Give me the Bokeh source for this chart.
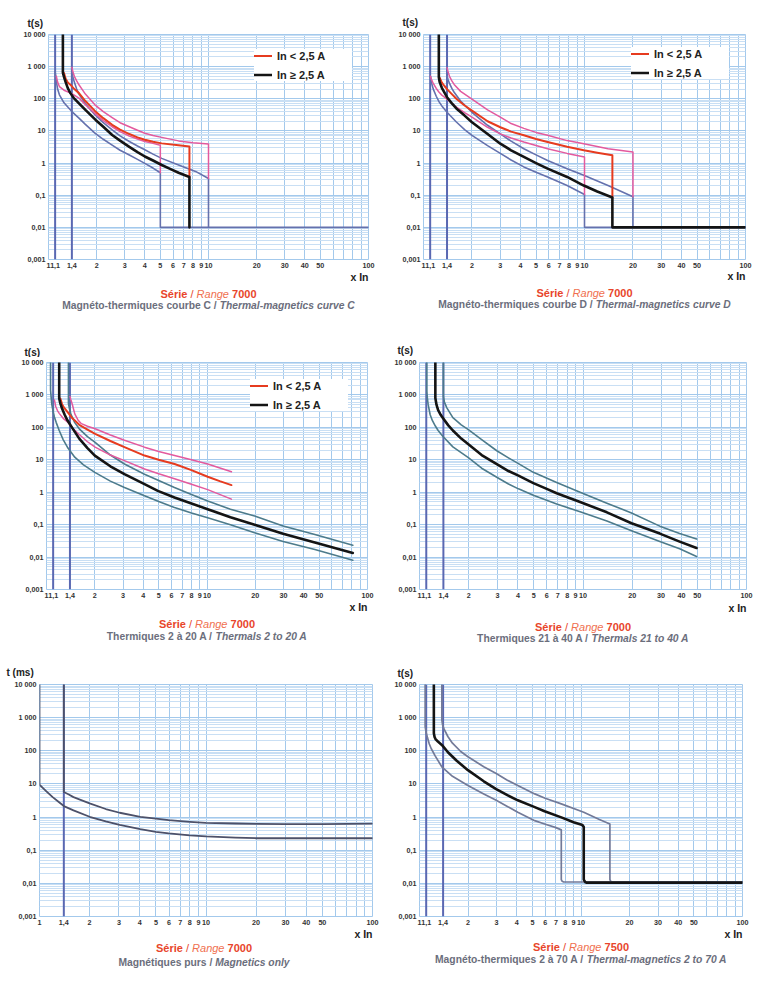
from bokeh.plotting import figure
from bokeh.models import Range1d, FixedTicker, Legend, LegendItem
from bokeh.core.properties import value
from bokeh.layouts import column, row
from bokeh.embed import file_html
from bokeh.resources import INLINE

# ---------------- DATA ----------------
REF_X = [1.1, 1.4]
REF_X_M = [1.4]

# Curve C (Range 7000)
C_BLUE_LO_X = [1.1, 1.12, 1.14, 1.17, 1.25, 1.4, 1.55, 1.7, 1.95, 2.2, 2.5, 2.8, 3.2, 3.6, 4.0, 4.5, 5.0, 5.0, 100]
C_BLUE_LO_T = [700, 350, 200, 133, 75, 40, 25, 16, 8.5, 5.5, 3.6, 2.5, 1.78, 1.3, 0.98, 0.7, 0.5, 0.01, 0.01]
C_PINK_LO_X = [1.12, 1.14, 1.17, 1.25, 1.4, 1.55, 1.7, 1.95, 2.2, 2.5, 2.8, 3.2, 3.6, 4.0, 4.5, 5.0, 5.0]
C_PINK_LO_T = [500, 330, 240, 185, 145, 105, 65, 35, 21, 13.5, 9.5, 6.9, 5.6, 4.7, 4.1, 3.6, 0.5]
C_BLUE_UP_X = [1.4, 1.42, 1.45, 1.5, 1.55, 1.7, 1.95, 2.2, 2.5, 2.8, 3.2, 3.6, 4.0, 4.5, 5.1, 6.5, 8.3, 10, 10]
C_BLUE_UP_T = [700, 480, 330, 200, 140, 70, 32, 18, 10.8, 7, 4.7, 3.4, 2.6, 1.9, 1.4, 0.87, 0.55, 0.33, 0.01]
C_PINK_UP_X = [1.4, 1.42, 1.45, 1.5, 1.55, 1.7, 1.95, 2.2, 2.5, 2.8, 3.2, 3.6, 4.0, 4.5, 5.1, 6.5, 8.0, 10, 10]
C_PINK_UP_T = [950, 700, 500, 360, 273, 140, 65, 40, 26, 18, 13.5, 10.5, 8.5, 7.2, 6.3, 4.9, 4.3, 3.9, 0.33]
C_RED_X = [1.25, 1.28, 1.32, 1.37, 1.45, 1.55, 1.7, 1.95, 2.2, 2.5, 2.8, 3.2, 3.6, 4.0, 4.5, 5.1, 6.5, 7.6, 7.6]
C_RED_T = [630, 420, 320, 275, 200, 150, 85, 42, 25, 15.5, 11, 8, 6.3, 5.3, 4.6, 4.1, 3.6, 3.3, 0.37]
C_BLACK_X = [1.23, 1.23, 1.25, 1.28, 1.32, 1.37, 1.44, 1.55, 1.7, 1.97, 2.2, 2.5, 2.8, 3.2, 3.6, 4.0, 4.5, 5.1, 5.8, 6.5, 7.6, 7.6]
C_BLACK_T = [10000, 650, 480, 330, 215, 150, 105, 72, 45, 22, 13.5, 7.5, 5, 3.2, 2.2, 1.6, 1.2, 0.87, 0.65, 0.5, 0.37, 0.01]

# Curve D (Range 7000)
D_BLUE_LO_X = [1.105, 1.12, 1.15, 1.2, 1.25, 1.3, 1.4, 1.6, 1.8, 2.0, 2.5, 3.0, 3.5, 4.2, 5.0, 5.9, 7.8, 10, 10, 100]
D_BLUE_LO_T = [500, 320, 200, 120, 80, 60, 38, 19, 11, 7.3, 3.5, 2, 1.25, 0.76, 0.52, 0.37, 0.2, 0.105, 0.01, 0.01]
D_PINK_LO_X = [1.105, 1.12, 1.15, 1.2, 1.25, 1.3, 1.4, 1.6, 1.8, 2.0, 2.5, 3.0, 3.5, 4.2, 5.0, 5.9, 7.8, 10, 10]
D_PINK_LO_T = [500, 400, 300, 210, 160, 130, 98, 55, 37, 27, 13, 8.1, 6, 4.5, 3.5, 2.8, 2, 1.55, 0.105]
D_BLUE_UP_X = [1.4, 1.42, 1.45, 1.5, 1.55, 1.7, 2.0, 2.5, 3.0, 3.5, 4.2, 5.0, 5.9, 7.8, 9.9, 14, 20, 20]
D_BLUE_UP_T = [520, 400, 300, 210, 160, 85, 38, 15, 8.1, 4.8, 2.8, 1.8, 1.2, 0.67, 0.42, 0.2, 0.09, 0.01]
D_PINK_UP_X = [1.4, 1.42, 1.45, 1.5, 1.55, 1.7, 2.0, 2.5, 3.0, 3.5, 4.2, 5.0, 5.9, 7.8, 9.9, 14, 20, 20]
D_PINK_UP_T = [930, 700, 500, 360, 280, 170, 98, 45, 27, 17, 12, 9, 7.3, 5, 4, 2.8, 2.2, 0.09]
D_RED_X = [1.26, 1.3, 1.35, 1.4, 1.5, 1.6, 1.8, 2.0, 2.5, 3.0, 3.5, 4.2, 5.0, 5.9, 7.8, 9.9, 12, 14.9, 14.9]
D_RED_T = [450, 320, 250, 200, 140, 100, 62, 43, 20, 13, 9.5, 7.3, 5.6, 4.5, 3.2, 2.5, 2.1, 1.74, 0.085]
D_BLACK_X = [1.245, 1.245, 1.26, 1.3, 1.35, 1.4, 1.5, 1.6, 1.8, 2.0, 2.5, 3.0, 3.5, 4.2, 5.0, 5.9, 7.8, 9.9, 12, 14.9, 14.9, 100]
D_BLACK_T = [10000, 470, 330, 220, 155, 112, 72, 50, 30, 18.6, 8, 4, 2.5, 1.55, 1.0, 0.67, 0.37, 0.2, 0.13, 0.085, 0.01, 0.01]

# Thermal 2 to 20 A
T1_LO_X = [1.06, 1.06, 1.07, 1.08, 1.1, 1.12, 1.15, 1.2, 1.27, 1.35, 1.5, 1.7, 2.0, 2.5, 3.06, 4.08, 5, 6.27, 8, 10.1, 14, 19.8, 29.8, 47, 81]
T1_LO_T = [10000, 1400, 800, 500, 300, 210, 140, 80, 42, 24.5, 12, 7, 4.1, 2.2, 1.4, 0.78, 0.52, 0.34, 0.23, 0.164, 0.1, 0.056, 0.03, 0.017, 0.008]
T1_UP_X = [1.37, 1.37, 1.39, 1.42, 1.5, 1.6, 1.8, 2.0, 2.5, 3.06, 4.08, 5, 6.27, 8, 10.1, 14, 19.8, 29.8, 47, 81]
T1_UP_T = [10000, 540, 380, 250, 140, 90, 52, 35, 14, 7.4, 3.6, 2.3, 1.4, 0.85, 0.54, 0.3, 0.185, 0.091, 0.05, 0.023]
T1_PINK_LO_X = [1.12, 1.14, 1.17, 1.2, 1.27, 1.35, 1.45, 1.6, 1.8, 2.01, 2.5, 3.06, 4.08, 5, 6.28, 8, 10.1, 14.2]
T1_PINK_LO_T = [700, 450, 330, 270, 190, 148, 95, 60, 36, 24.5, 14, 9.4, 5.2, 3.7, 2.6, 1.75, 1.2, 0.61]
T1_PINK_UP_X = [1.4, 1.42, 1.45, 1.5, 1.57, 1.65, 1.8, 2.01, 2.5, 3.06, 4.08, 5, 6.28, 8, 10.1, 14.2]
T1_PINK_UP_T = [900, 700, 500, 260, 170, 130, 108, 91, 58, 40, 24.5, 18, 13.5, 10, 7.4, 4.3]
T1_RED_X = [1.22, 1.25, 1.28, 1.35, 1.45, 1.6, 1.8, 2.01, 2.5, 3.06, 4.08, 5, 6.28, 8, 10.1, 12, 14.2]
T1_RED_T = [780, 520, 420, 300, 190, 120, 85, 63, 38, 24.5, 13.5, 10, 7.4, 4.8, 3.0, 2.2, 1.66]
T1_BLACK_X = [1.2, 1.2, 1.22, 1.25, 1.3, 1.35, 1.45, 1.6, 1.8, 2.0, 2.5, 3.06, 4.08, 4.94, 6.27, 8, 10.1, 14, 19.8, 29.8, 47, 81]
T1_BLACK_T = [10000, 780, 550, 380, 240, 165, 95, 45, 23, 13.5, 6.3, 3.6, 1.78, 1.1, 0.69, 0.45, 0.30, 0.17, 0.10, 0.052, 0.028, 0.0134]

# Thermal 21 to 40 A
T2_LO_X = [1.108, 1.108, 1.12, 1.13, 1.162, 1.2, 1.25, 1.3, 1.388, 1.6, 1.99, 2.4, 2.97, 3.5, 4.03, 4.97, 6.9, 9.6, 14, 19.8, 29.5, 39, 49.5]
T2_LO_T = [10000, 1300, 700, 500, 245, 160, 110, 80, 53, 25, 11.7, 5.5, 2.9, 1.8, 1.27, 0.8, 0.43, 0.25, 0.13, 0.065, 0.03, 0.018, 0.0104]
T2_UP_X = [1.4, 1.4, 1.42, 1.47, 1.6, 1.8, 1.99, 2.4, 2.97, 3.5, 4.03, 4.97, 6.9, 9.6, 14, 19.8, 29.5, 39, 49.5]
T2_UP_T = [10000, 900, 600, 400, 200, 120, 85, 42, 19, 11.5, 7.6, 4.1, 2.0, 1.0, 0.46, 0.23, 0.09, 0.053, 0.036]
T2_BLACK_X = [1.25, 1.25, 1.27, 1.3, 1.35, 1.39, 1.5, 1.6, 1.8, 1.99, 2.4, 2.97, 3.5, 4.03, 4.97, 6.0, 6.9, 9.6, 14, 19.8, 29.5, 39, 49.5]
T2_BLACK_T = [10000, 800, 500, 340, 240, 195, 115, 80, 45, 30, 14, 7.3, 4.5, 3.24, 1.9, 1.27, 0.93, 0.5, 0.24, 0.11, 0.053, 0.03, 0.019]

# Magnetics only (ms)
M_LO_X = [1, 1, 1.05, 1.1, 1.2, 1.3, 1.4, 1.6, 2, 2.5, 3.03, 4.03, 5, 5.97, 8, 10, 15, 20, 30, 50, 100]
M_LO_T = [10000, 9.5, 7.5, 6, 4, 2.9, 2.15, 1.6, 1.02, 0.74, 0.58, 0.43, 0.36, 0.32, 0.28, 0.26, 0.24, 0.23, 0.23, 0.23, 0.23]
M_UP_X = [1.4, 1.4, 1.5, 1.6, 2, 2.5, 3.03, 4.03, 5, 5.97, 8, 10, 15, 20, 30, 50, 100]
M_UP_T = [10000, 5.7, 4.8, 4, 2.6, 1.75, 1.35, 1.02, 0.9, 0.81, 0.72, 0.67, 0.64, 0.62, 0.61, 0.61, 0.63]

# Range 7500, 2 to 70 A
G_LO_X = [1.084, 1.084, 1.1, 1.12, 1.15, 1.181, 1.25, 1.38, 1.6, 1.995, 2.5, 2.985, 3.5, 4.06, 5.17, 5.95, 7.0, 7.55, 7.55, 7.65, 7.8, 100]
G_LO_T = [10000, 540, 350, 250, 160, 117, 70, 32, 17, 9, 5, 3.2, 2.1, 1.4, 0.78, 0.62, 0.48, 0.41, 0.013, 0.0115, 0.011, 0.011]
G_UP_X = [1.375, 1.375, 1.39, 1.42, 1.498, 1.6, 1.8, 1.995, 2.5, 2.985, 3.5, 4.06, 5.17, 6, 7.55, 10.4, 13, 15.1, 15.1, 15.3, 15.5, 100]
G_UP_T = [10000, 850, 600, 450, 270, 170, 95, 66, 33, 20.5, 13, 9, 5, 3.7, 2.5, 1.4, 0.85, 0.62, 0.013, 0.0115, 0.011, 0.011]
G_BLACK_X = [1.227, 1.227, 1.24, 1.26, 1.3, 1.38, 1.5, 1.7, 1.995, 2.5, 2.985, 3.5, 4.06, 5.17, 5.95, 7.55, 9, 10.2, 10.4, 10.4, 10.6, 10.8, 100]
G_BLACK_T = [10000, 340, 260, 220, 190, 148, 90, 50, 26, 12, 7, 4.6, 3.2, 2.0, 1.5, 0.98, 0.7, 0.58, 0.5, 0.013, 0.011, 0.0105, 0.0105]

# Ticks
X_TICKS = [1, 1.1, 1.4, 2, 3, 4, 5, 6, 7, 8, 9, 10, 20, 30, 40, 50, 100]
X_LABELS = ["1", "1,1", "1,4", "2", "3", "4", "5", "6", "7", "8", "9", "10", "20", "30", "40", "50", "100"]
X_TICKS_M = [1, 1.4, 2, 3, 4, 5, 6, 7, 8, 9, 10, 20, 30, 40, 50, 100]
X_LABELS_M = ["1", "1,4", "2", "3", "4", "5", "6", "7", "8", "9", "10", "20", "30", "40", "50", "100"]
Y_TICKS = [0.001, 0.01, 0.1, 1, 10, 100, 1000, 10000]
Y_LABELS = ["0,001", "0,01", "0,1", "1", "10", "100", "1 000", "10 000"]

LEGEND_LABELS = ["In < 2,5 A", "In \u2265 2,5 A"]

# ---------------- STYLE ----------------
FONT = "Liberation Sans"
GRID_MAJ = "#a3c9ec"
GRID_MIN = "#c9dff4"
REF_COL = "#5a68b2"
BLUE = "#6571ad"
PINK = "#e35a9e"
RED = "#e63b1f"
BLACK = "#141414"
TEAL = "#4d7b8b"
GREYB = "#737a98"
SLATE = "#4d5169"
CAP_RED = "#e8452b"
CAP_ORANGE = "#f0704f"
CAP_GREY = "#6b6e7c"

X_GRID = [m * d for d in (1, 10) for m in range(1, 10)] + [100]
Y_MINOR = [m * 10.0 ** e for e in range(-3, 4) for m in range(2, 10)]

BOLD_W = {' ': 278, '/': 278, '-': 333, ',': 278, 'S': 667, 'R': 722, 'M': 833, 'C': 722, 'D': 722,
          'T': 611, 'A': 722, 'P': 667, 'I': 278, 'a': 556, 'b': 611, 'c': 556, 'd': 611, 'e': 556, 'é': 556,
          'à': 556, 'f': 333, 'g': 611, 'h': 611, 'i': 278, 'l': 278, 'm': 889, 'n': 611, 'o': 611,
          'p': 611, 'q': 611, 'r': 389, 's': 556, 't': 333, 'u': 611, 'v': 556, 'y': 556, 'x': 556}
REG_W = {' ': 278, '/': 278, '-': 333, ',': 278, 'S': 667, 'R': 722, 'M': 833, 'C': 722, 'D': 722,
         'T': 611, 'A': 667, 'P': 667, 'I': 278, 'a': 556, 'b': 556, 'c': 500, 'd': 556, 'e': 556, 'é': 556,
         'à': 556, 'f': 278, 'g': 556, 'h': 556, 'i': 222, 'l': 222, 'm': 833, 'n': 556, 'o': 556,
         'p': 556, 'q': 556, 'r': 333, 's': 500, 't': 278, 'u': 556, 'v': 500, 'y': 500, 'x': 500}

PAGE_W = 780
COL_W = 390
TOP_B = 5
BOTTOM_B = 12
# frame top / height of each row of panels (page pixels)
ROWS = [(34, 225), (362, 227), (684, 232)]
PAGE_H = 1000


def text_w(s, bold, size):
    tbl = BOLD_W if bold else REG_W
    return sum(tbl.get(ch, 556) for ch in s) * size / 1000.0


def text_fig(w, h):
    f = figure(width=w, height=h, x_range=Range1d(0, w), y_range=Range1d(h, 0),
               output_backend="svg", toolbar_location=None, title=None,
               x_axis_location=None, y_axis_location=None, min_border=0)
    f.min_border_left = 0
    f.min_border_right = 0
    f.min_border_top = 0
    f.min_border_bottom = 0
    f.outline_line_color = None
    f.grid.visible = False
    f.background_fill_color = "white"
    f.border_fill_color = "white"
    return f


# bands of free space between the rows of panels, holding the texts
BANDS = []
prev = 0
for top, fh in ROWS:
    BANDS.append((prev, top - TOP_B))
    prev = top + fh + BOTTOM_B
BANDS.append((prev, PAGE_H))
BAND_FIGS = [text_fig(PAGE_W, b1 - b0) for b0, b1 in BANDS]


def put_text(x, y, s, size, style, color, align="left"):
    for (b0, b1), f in zip(BANDS, BAND_FIGS):
        if b0 <= y < b1:
            f.text(x=[x], y=[y - b0], text=[s], text_font=value(FONT), text_font_size=value(f"{size}px"),
                   text_font_style=value(style), text_color=color, text_align=value(align),
                   text_baseline=value("middle"))
            return


def put_segments(cx, y, segs, size):
    total = sum(text_w(t, b, size) for t, b, i, c in segs)
    x = cx - total / 2.0
    for t, b, i, c in segs:
        lead = len(t) - len(t.lstrip(' '))
        core = t.strip(' ')
        style = (("bold " if b else "") + ("italic" if i else "")).strip() or "normal"
        put_text(x + text_w(t[:lead], b, size), y, core, size, style, c)
        x += text_w(t, b, size)


def make_main(cfg, fh):
    L, FW = cfg["frame"]
    H = TOP_B + fh + BOTTOM_B
    p = figure(width=COL_W, height=H, x_axis_type="log", y_axis_type="log",
               x_range=Range1d(1, 100), y_range=Range1d(1e-3, 1e4),
               output_backend="svg", toolbar_location=None, title=None,
               min_border_left=L, min_border_top=TOP_B,
               min_border_right=COL_W - L - FW, min_border_bottom=BOTTOM_B)
    p.background_fill_color = "white"
    p.border_fill_color = "white"
    p.outline_line_color = GRID_MAJ

    xt, xl = cfg["xticks"]
    p.xaxis.ticker = FixedTicker(ticks=xt)
    p.xaxis.major_label_overrides = {v: s for v, s in zip(xt, xl)}
    p.yaxis.ticker = FixedTicker(ticks=Y_TICKS)
    p.yaxis.major_label_overrides = {v: s for v, s in zip(Y_TICKS, Y_LABELS)}
    for ax in (p.xaxis[0], p.yaxis[0]):
        ax.axis_line_color = None
        ax.major_tick_line_color = None
        ax.minor_tick_line_color = None
        ax.major_tick_in = 0
        ax.major_tick_out = 0
        ax.minor_tick_in = 0
        ax.minor_tick_out = 0
        ax.major_label_text_font = FONT
        ax.major_label_text_font_style = "bold"
        ax.major_label_text_font_size = "7.2px"
        ax.major_label_text_color = "#333333"
        ax.major_label_standoff = 3

    p.xgrid.ticker = FixedTicker(ticks=X_GRID)
    p.xgrid.grid_line_color = GRID_MAJ
    p.xgrid.grid_line_width = 1
    p.ygrid.ticker = FixedTicker(ticks=Y_TICKS, minor_ticks=Y_MINOR)
    p.ygrid.grid_line_color = GRID_MAJ
    p.ygrid.grid_line_width = 1.2
    p.ygrid.minor_grid_line_color = GRID_MIN
    p.ygrid.minor_grid_line_width = 1

    refx = cfg["ref"]
    p.segment(x0=refx, y0=[Y_TICKS[0]] * len(refx), x1=refx, y1=[Y_TICKS[-1]] * len(refx),
              line_color=REF_COL, line_width=2)

    rends = {}
    for key, xs, ts, col, lw in cfg["series"]:
        rends[key] = p.line(xs, ts, line_color=col, line_width=lw, line_join="round", line_cap="round")

    if cfg.get("legend"):
        lx, ly = cfg["legend"]
        leg = Legend(items=[LegendItem(label=LEGEND_LABELS[0], renderers=[rends["red"]]),
                            LegendItem(label=LEGEND_LABELS[1], renderers=[rends["black"]])],
                     location=(lx, ly), padding=3, spacing=6, margin=0,
                     glyph_width=18, glyph_height=13, label_height=13, label_width=75,
                     label_standoff=5, border_line_color=None,
                     background_fill_color="white", background_fill_alpha=1.0,
                     label_text_font=FONT, label_text_font_style="bold",
                     label_text_font_size="11px", label_text_color="#222222")
        p.add_layout(leg)
    return p


def add_texts(cfg, col_x, top, fh):
    L, FW = cfg["frame"]
    left = col_x + L
    right = left + FW
    bottom = top + fh
    hx, hy, htxt = cfg["thead"]
    put_text(left + hx, top - hy, htxt, 10, "bold", "#222222")
    put_text(right, bottom + cfg["xin"], "x In", 10.5, "bold", "#222222", align="right")
    c1, c2 = cfg["capoff"]
    cx = left + FW / 2.0 + cfg.get("capdx", 0)
    put_segments(cx, bottom + c1,
                 [("Série", True, False, CAP_RED), (" / ", False, False, CAP_RED),
                  ("Range", False, True, CAP_ORANGE), (" " + cfg["range"], True, False, CAP_RED)], 11)
    fr, en = cfg["cap2"]
    put_segments(cx, bottom + c2,
                 [(fr + " / ", True, False, CAP_GREY), (en, True, True, CAP_GREY)], 10.3)


panels = [
    dict(frame=(48, 320), xticks=(X_TICKS, X_LABELS), ref=REF_X,
         series=[("blo", C_BLUE_LO_X, C_BLUE_LO_T, BLUE, 1.6), ("bup", C_BLUE_UP_X, C_BLUE_UP_T, BLUE, 1.6),
                 ("plo", C_PINK_LO_X, C_PINK_LO_T, PINK, 1.5), ("pup", C_PINK_UP_X, C_PINK_UP_T, PINK, 1.5),
                 ("red", C_RED_X, C_RED_T, RED, 2.0), ("black", C_BLACK_X, C_BLACK_T, BLACK, 2.6)],
         legend=(206, 178), thead=(-21, 11, "t(s)"), xin=17, capoff=(34, 46), range="7000",
         cap2=("Magnéto-thermiques courbe C", "Thermal-magnetics curve C")),
    dict(frame=(33, 322), xticks=(X_TICKS, X_LABELS), ref=REF_X,
         series=[("blo", D_BLUE_LO_X, D_BLUE_LO_T, BLUE, 1.6), ("bup", D_BLUE_UP_X, D_BLUE_UP_T, BLUE, 1.6),
                 ("plo", D_PINK_LO_X, D_PINK_LO_T, PINK, 1.5), ("pup", D_PINK_UP_X, D_PINK_UP_T, PINK, 1.5),
                 ("red", D_RED_X, D_RED_T, RED, 2.0), ("black", D_BLACK_X, D_BLACK_T, BLACK, 2.6)],
         legend=(208, 180), thead=(-21, 12, "t(s)"), xin=16, capoff=(33, 45), range="7000",
         cap2=("Magnéto-thermiques courbe D", "Thermal-magnetics curve D")),
    dict(frame=(46, 321), xticks=(X_TICKS, X_LABELS), ref=REF_X,
         series=[("lo", T1_LO_X, T1_LO_T, TEAL, 1.6), ("up", T1_UP_X, T1_UP_T, TEAL, 1.6),
                 ("plo", T1_PINK_LO_X, T1_PINK_LO_T, PINK, 1.5), ("pup", T1_PINK_UP_X, T1_PINK_UP_T, PINK, 1.5),
                 ("red", T1_RED_X, T1_RED_T, RED, 2.0), ("black", T1_BLACK_X, T1_BLACK_T, BLACK, 2.6)],
         legend=(204, 178), thead=(-22, 10, "t(s)"), xin=17, capoff=(34, 47), range="7000",
         cap2=("Thermiques 2 à 20 A", "Thermals 2 to 20 A")),
    dict(frame=(29, 327), xticks=(X_TICKS, X_LABELS), ref=REF_X,
         series=[("lo", T2_LO_X, T2_LO_T, TEAL, 1.6), ("up", T2_UP_X, T2_UP_T, TEAL, 1.6),
                 ("black", T2_BLACK_X, T2_BLACK_T, BLACK, 2.6)],
         thead=(-22, 12, "t(s)"), xin=18, capoff=(37, 49), range="7000",
         cap2=("Thermiques 21 à 40 A", "Thermals 21 to 40 A")),
    dict(frame=(39, 333), xticks=(X_TICKS_M, X_LABELS_M), ref=REF_X_M,
         series=[("lo", M_LO_X, M_LO_T, SLATE, 1.8), ("up", M_UP_X, M_UP_T, SLATE, 1.8)],
         thead=(-33, 12, "t (ms)"), xin=17, capoff=(31, 46), range="7000", capdx=-2,
         cap2=("Magnétiques purs", "Magnetics only")),
    dict(frame=(29, 323), xticks=(X_TICKS, X_LABELS), ref=REF_X,
         series=[("lo", G_LO_X, G_LO_T, GREYB, 1.7), ("up", G_UP_X, G_UP_T, GREYB, 1.7),
                 ("black", G_BLACK_X, G_BLACK_T, BLACK, 2.6)],
         thead=(-22, 11, "t(s)"), xin=17, capoff=(30, 43), range="7500",
         cap2=("Magnéto-thermiques 2 à 70 A", "Thermal-magnetics 2 to 70 A")),
]

mains = []
for i, cfg in enumerate(panels):
    top, fh = ROWS[i // 2]
    col_x = (i % 2) * COL_W
    mains.append(make_main(cfg, fh))
    add_texts(cfg, col_x, top, fh)

layout = column(row(BAND_FIGS[0]), row(mains[0], mains[1]), row(BAND_FIGS[1]),
                row(mains[2], mains[3]), row(BAND_FIGS[2]), row(mains[4], mains[5]), row(BAND_FIGS[3]))

open("out.html", "w").write(file_html(layout, INLINE))
